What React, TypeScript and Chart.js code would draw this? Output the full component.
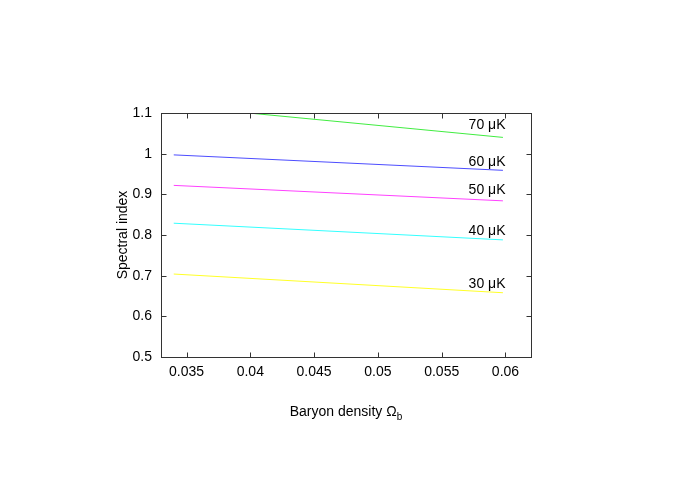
import { useEffect, useRef } from 'react';
import { Chart, registerables } from 'chart.js';

Chart.register(...registerables);

// ---- data ----
const xTicks = [0.035, 0.04, 0.045, 0.05, 0.055, 0.06];
const yTicks = [0.5, 0.6, 0.7, 0.8, 0.9, 1.0, 1.1];
const xRange = [0.033, 0.062];
const yRange = [0.5, 1.1];

const levelNames = ['30 μK', '40 μK', '50 μK', '60 μK', '70 μK'];
const levelColors = [
  'rgba(255,255,0,0.85)',
  'rgba(0,255,255,0.8)',
  'rgba(255,0,255,0.75)',
  'rgba(0,0,255,0.7)',
  'rgba(0,230,0,0.75)',
];

const omegaB30 = [0.034, 0.0598];
const ns30 = [0.704, 0.658];
const omegaB40 = [0.034, 0.0598];
const ns40 = [0.829, 0.788];
const omegaB50 = [0.034, 0.0598];
const ns50 = [0.922, 0.884];
const omegaB60 = [0.034, 0.0598];
const ns60 = [0.997, 0.959];
const omegaB70 = [0.0402, 0.0598];
const ns70 = [1.099, 1.04];

const labelX = [0.06, 0.06, 0.06, 0.06, 0.06];
const labelY = [0.68, 0.81, 0.911, 0.98, 1.0705];

const seriesX = [omegaB30, omegaB40, omegaB50, omegaB60, omegaB70];
const seriesY = [ns30, ns40, ns50, ns60, ns70];

const FONT = '"Liberation Sans", Arial, sans-serif';

const decor = {
  id: 'gnuplotDecor',
  afterDraw(chart: any) {
    const { ctx, chartArea: a, scales } = chart;
    const xs = scales.x;
    const ys = scales.y;
    const L = Math.round(a.left) + 0.5;
    const R = Math.round(a.right) + 0.5;
    const T = Math.round(a.top) + 0.5;
    const B = Math.round(a.bottom) + 0.5;
    ctx.save();
    ctx.strokeStyle = '#333';
    ctx.lineWidth = 1;
    ctx.strokeRect(L, T, R - L, B - T);
    const tl = 5;
    ctx.beginPath();
    xTicks.forEach((v) => {
      const px = Math.round(xs.getPixelForValue(v)) + 0.5;
      ctx.moveTo(px, B);
      ctx.lineTo(px, B - tl);
      ctx.moveTo(px, T);
      ctx.lineTo(px, T + tl);
    });
    yTicks.forEach((v) => {
      const py = Math.round(ys.getPixelForValue(v)) + 0.5;
      ctx.moveTo(L, py);
      ctx.lineTo(L + tl, py);
      ctx.moveTo(R, py);
      ctx.lineTo(R - tl, py);
    });
    ctx.stroke();

    // contour labels
    ctx.fillStyle = '#000';
    ctx.font = '14px ' + FONT;
    ctx.textAlign = 'right';
    ctx.textBaseline = 'middle';
    levelNames.forEach((name, i) => {
      ctx.fillText(name, xs.getPixelForValue(labelX[i]), ys.getPixelForValue(labelY[i]));
    });

    // x axis title with subscript
    const main = 'Baryon density Ω';
    const sub = 'b';
    ctx.font = '14px ' + FONT;
    const wMain = ctx.measureText(main).width;
    ctx.font = '10px ' + FONT;
    const wSub = ctx.measureText(sub).width;
    const cx = (a.left + a.right) / 2;
    const startX = cx - (wMain + wSub) / 2;
    const ty = a.bottom + 59;
    ctx.textAlign = 'left';
    ctx.textBaseline = 'alphabetic';
    ctx.font = '14px ' + FONT;
    ctx.fillText(main, startX, ty);
    ctx.font = '10px ' + FONT;
    ctx.fillText(sub, startX + wMain, ty + 4);
    ctx.restore();
  },
};

export default function App() {
  const ref = useRef<HTMLCanvasElement>(null);
  useEffect(() => {
    const canvas = ref.current;
    if (!canvas) return;
    const datasets = seriesX.map((xsArr, i) => ({
      label: levelNames[i],
      data: xsArr.map((x, j) => ({ x, y: seriesY[i][j] })),
      borderColor: levelColors[i],
      backgroundColor: levelColors[i],
      borderWidth: 1,
      showLine: true,
      pointRadius: 0,
      fill: false,
    }));
    const chart = new Chart(canvas, {
      type: 'scatter',
      data: { datasets },
      plugins: [decor],
      options: {
        animation: false,
        responsive: false,
        devicePixelRatio: 1,
        layout: { padding: { left: 115, right: 162, top: 113, bottom: 98 } },
        plugins: { legend: { display: false }, tooltip: { enabled: false } },
        scales: {
          x: {
            type: 'linear',
            min: xRange[0],
            max: xRange[1],
            afterBuildTicks: (s: any) => {
              s.ticks = xTicks.map((v) => ({ value: v }));
            },
            afterFit: (s: any) => {
              s.height = 30;
            },
            grid: { display: false, drawTicks: false },
            border: { display: false },
            ticks: {
              padding: 7,
              color: '#000',
              font: { family: FONT, size: 14 },
              maxRotation: 0,
              autoSkip: false,
              callback: (v: any) => String(Number(Number(v).toFixed(4))),
            },
          },
          y: {
            type: 'linear',
            min: yRange[0],
            max: yRange[1],
            afterBuildTicks: (s: any) => {
              s.ticks = yTicks.map((v) => ({ value: v }));
            },
            afterFit: (s: any) => {
              s.width = 46;
            },
            grid: { display: false, drawTicks: false },
            border: { display: false },
            title: {
              display: true,
              text: 'Spectral index',
              color: '#000',
              font: { family: FONT, size: 14 },
              padding: 0,
            },
            ticks: {
              padding: 9,
              color: '#000',
              font: { family: FONT, size: 14 },
              autoSkip: false,
              callback: (v: any) => String(Number(Number(v).toFixed(4))),
            },
          },
        },
      },
    });
    return () => chart.destroy();
  }, []);
  return (
    <div style={{ position: 'absolute', left: 0, top: 0, width: 693, height: 485, background: '#fff' }}>
      <canvas ref={ref} width={693} height={485} style={{ display: 'block' }} />
    </div>
  );
}
